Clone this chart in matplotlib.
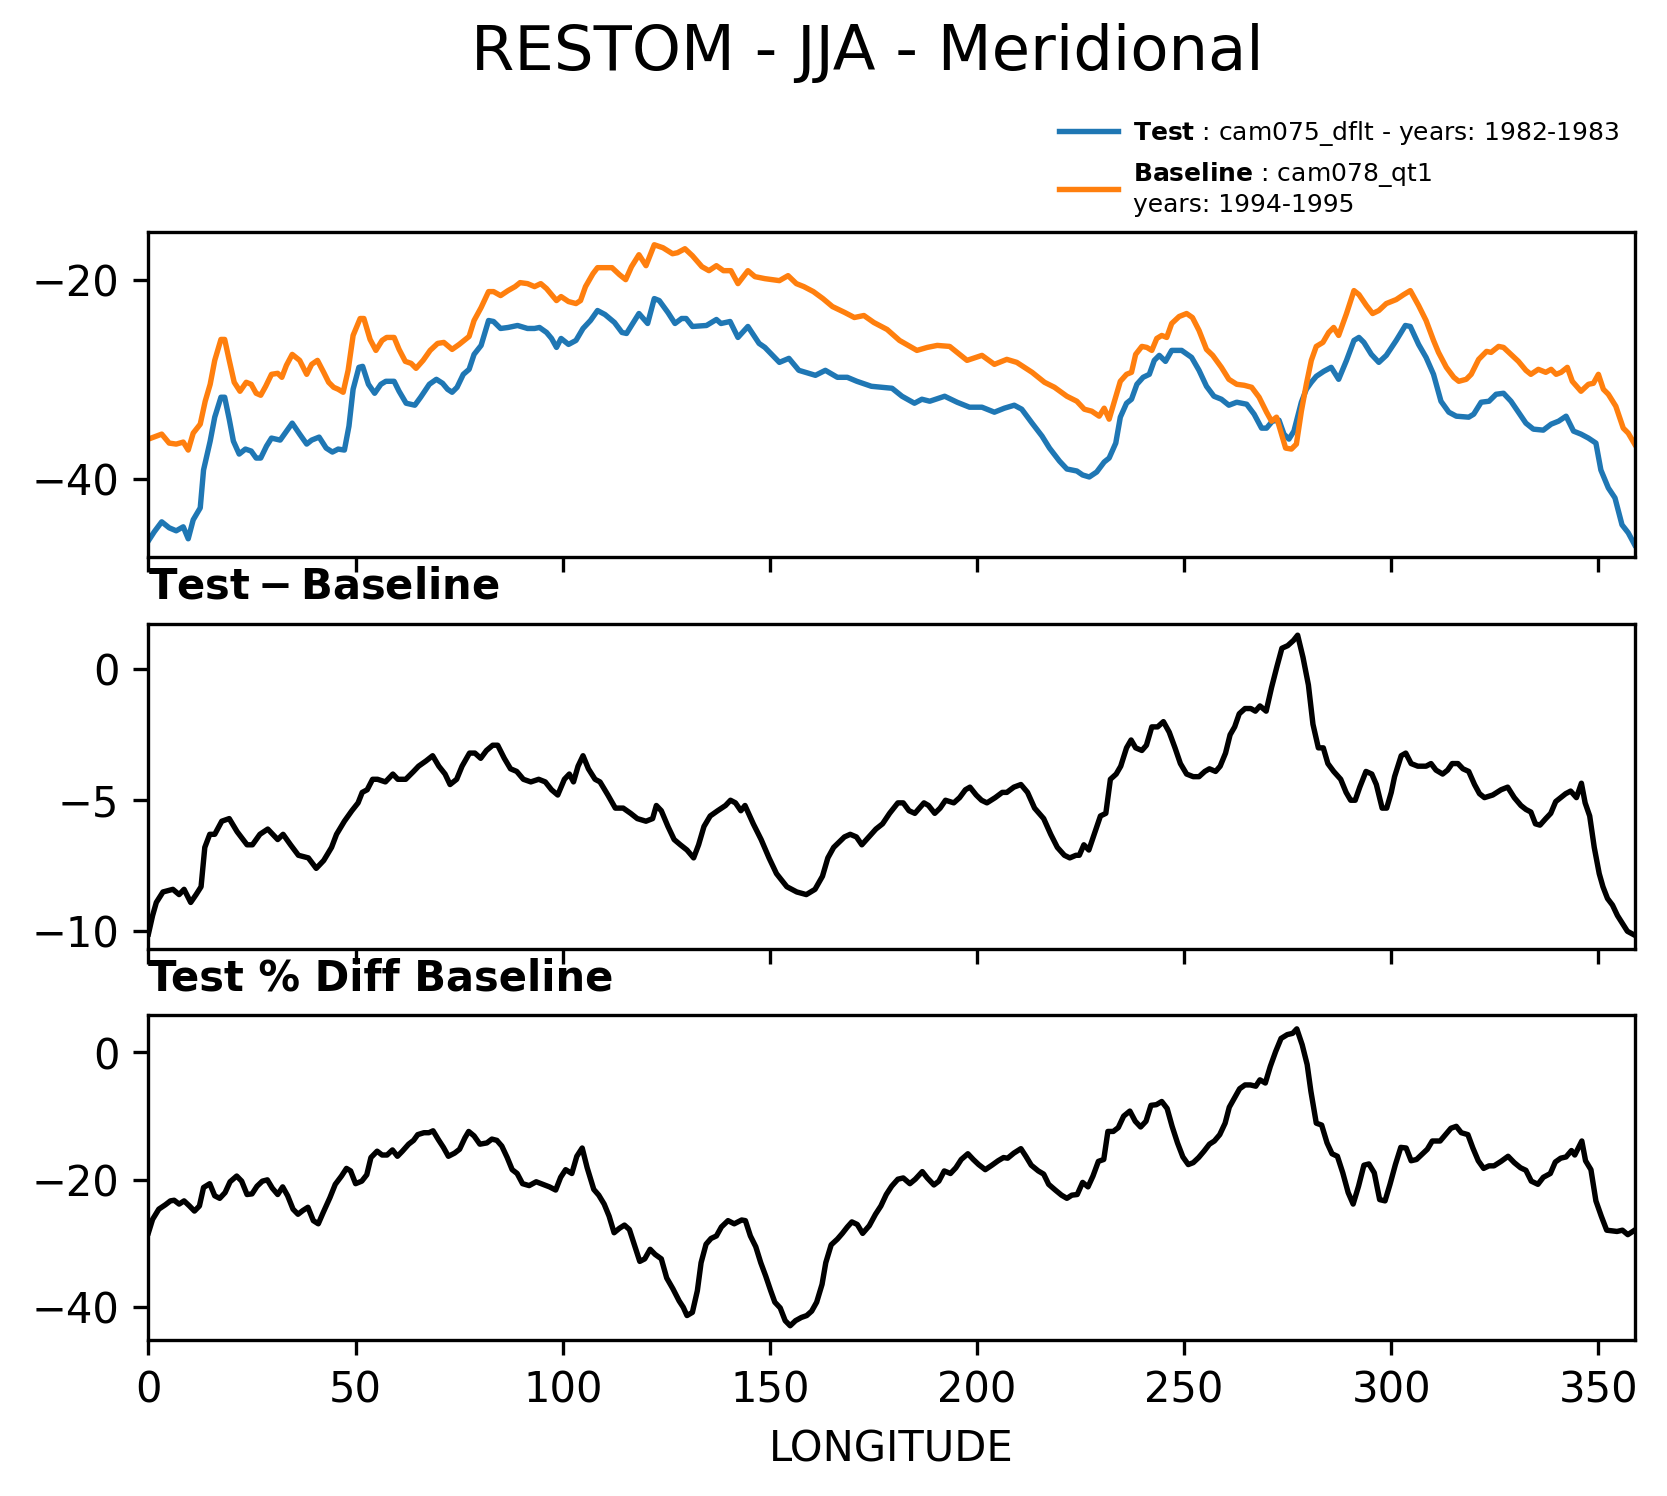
import matplotlib
matplotlib.use('Agg')
import matplotlib.pyplot as plt
from matplotlib.ticker import MultipleLocator

# RESTOM zonal-mean (meridional) values, by longitude
test_lon = [0, 1.4, 3.2, 5.0, 6.7, 8.4, 9.6, 10.8, 12.5, 13.3, 14.9, 16.0, 17.5, 18.4, 19.5, 20.5,
            21.9, 23.4, 24.8, 26.0, 27.1, 28.5, 29.7, 31.8, 33.0, 34.7, 36.5, 38.2, 39.4, 41.2,
            42.9, 44.4, 45.8, 47.3, 48.4, 49.4, 50.8, 51.7, 53.1, 54.6, 56.1, 57.3, 59.3, 60.5,
            62.2, 64.3, 65.7, 67.8, 69.5, 71.0, 72.2, 73.3, 74.5, 76.0, 77.4, 78.6, 80.3, 82.1,
            83.3, 85.0, 86.8, 89.1, 91.5, 93.2, 94.4, 96.1, 97.3, 98.5, 99.6, 101.4, 103.2, 104.9,
            106.7, 108.4, 110.2, 112.5, 114.3, 115.4, 116.6, 118.4, 120.5, 122.1, 123.3, 125.4,
            127.1, 128.7, 129.8, 131.3, 134.7, 137.1, 138.2, 140.4, 142.3, 144.7, 147.4, 148.8,
            152.3, 154.6, 157.0, 161.0, 163.4, 166.3, 168.7, 171.0, 174.5, 179.5, 181.9, 184.9,
            186.7, 188.6, 192.2, 195.2, 198.2, 201.2, 204.2, 206.6, 209.0, 210.8, 213.3, 215.7,
            217.5, 219.9, 221.7, 224.1, 225.5, 227.1, 228.9, 230.7, 231.9, 233.5, 234.6, 236.1,
            237.3, 238.6, 240.1, 241.6, 242.8, 244.0, 245.5, 247.0, 249.4, 251.8, 253.6, 255.4,
            257.2, 259.0, 260.8, 262.7, 265.1, 266.9, 268.7, 269.9, 271.3, 272.9, 274.1, 275.3,
            276.5, 278.3, 279.5, 280.7, 281.9, 283.7, 285.5, 287.3, 289.2, 291.0, 292.2, 293.4,
            295.2, 297.0, 298.8, 301.2, 303.4, 304.6, 306.6, 308.4, 310.2, 312.0, 313.9, 315.7,
            318.7, 319.9, 321.7, 323.6, 325.3, 327.1, 328.9, 330.7, 332.5, 334.3, 336.7, 338.6,
            340.4, 342.2, 344.0, 345.8, 347.6, 349.4, 350.6, 352.4, 354.0, 355.7, 357.2, 358.75]
test_val = [-46.2, -45.3, -44.3, -44.9, -45.2, -44.8, -46.0, -44.1, -42.9, -39.1, -36.2, -33.8,
            -31.8, -31.8, -34.0, -36.2, -37.5, -37.0, -37.2, -37.9, -37.9, -36.7, -35.9, -36.1,
            -35.4, -34.4, -35.5, -36.5, -36.1, -35.8, -36.9, -37.3, -37.0, -37.1, -34.7, -31.0,
            -28.8, -28.7, -30.5, -31.4, -30.5, -30.2, -30.2, -31.2, -32.4, -32.6, -31.8, -30.5,
            -30.0, -30.4, -31.0, -31.3, -30.8, -29.5, -29.0, -27.5, -26.6, -24.1, -24.2, -24.9,
            -24.8, -24.6, -24.9, -24.9, -24.8, -25.3, -25.9, -26.8, -25.9, -26.5, -26.1, -24.9,
            -24.1, -23.1, -23.5, -24.3, -25.3, -25.4, -24.6, -23.4, -24.4, -21.9, -22.1, -23.3,
            -24.4, -23.9, -23.9, -24.7, -24.6, -24.0, -24.4, -24.2, -25.8, -24.7, -26.4, -26.8,
            -28.3, -27.9, -29.1, -29.6, -29.1, -29.8, -29.8, -30.2, -30.7, -30.9, -31.7, -32.4,
            -32.0, -32.2, -31.7, -32.3, -32.8, -32.8, -33.3, -32.9, -32.6, -33.0, -34.4, -35.7,
            -36.9, -38.2, -39.0, -39.2, -39.6, -39.8, -39.3, -38.3, -37.9, -36.4, -33.8, -32.4,
            -32.0, -30.5, -29.8, -29.5, -28.1, -27.6, -28.2, -27.1, -27.1, -27.8, -29.1, -30.7,
            -31.7, -32.0, -32.6, -32.3, -32.5, -33.5, -34.9, -34.9, -34.2, -34.1, -35.5, -36.0,
            -35.2, -32.3, -31.0, -30.3, -29.7, -29.2, -28.8, -30.0, -28.1, -26.1, -25.8, -26.3,
            -27.5, -28.3, -27.6, -26.1, -24.6, -24.7, -26.5, -27.8, -29.5, -32.2, -33.3, -33.7,
            -33.8, -33.5, -32.3, -32.2, -31.5, -31.4, -32.2, -33.3, -34.4, -35.0, -35.1, -34.5,
            -34.2, -33.7, -35.2, -35.5, -35.9, -36.4, -39.1, -40.9, -41.9, -44.6, -45.4, -46.6]

base_lon = [0, 3.2, 5.0, 6.7, 8.4, 9.6, 10.8, 12.5, 13.7, 14.9, 16.0, 17.5, 18.4, 19.5, 20.7, 22.1,
            23.6, 24.8, 26.0, 27.1, 28.3, 29.7, 31.2, 32.2, 33.3, 34.7, 36.5, 38.2, 39.4, 40.8,
            42.3, 43.5, 44.7, 45.8, 47.0, 48.2, 49.4, 51.1, 52.0, 53.5, 54.9, 56.4, 57.5, 59.3,
            60.5, 62.0, 63.4, 64.6, 66.3, 68.0, 69.8, 71.3, 73.3, 75.0, 77.4, 78.6, 80.3, 82.1,
            83.3, 85.0, 86.8, 88.5, 89.7, 91.5, 93.2, 94.7, 96.1, 98.5, 99.6, 101.4, 103.2, 104.3,
            105.5, 107.3, 108.4, 111.9, 113.7, 115.2, 116.6, 118.4, 120.1, 122.1, 124.2, 126.5,
            127.7, 129.5, 131.3, 133.6, 135.3, 137.1, 138.8, 140.6, 142.3, 144.7, 146.4, 148.8,
            152.3, 154.4, 156.4, 158.2, 160.5, 162.8, 165.1, 168.1, 170.4, 172.7, 175.1, 178.3,
            181.3, 185.5, 188.0, 190.4, 193.4, 195.2, 197.6, 201.2, 204.2, 207.2, 209.6, 213.3,
            216.3, 218.7, 221.7, 224.1, 225.9, 227.7, 229.5, 230.7, 231.9, 233.1, 234.6, 236.1,
            237.3, 238.3, 239.8, 241.0, 242.2, 243.4, 244.6, 245.8, 247.0, 248.8, 250.6, 252.0,
            253.6, 255.4, 256.9, 259.0, 260.8, 262.7, 264.5, 266.3, 268.1, 269.9, 271.1, 272.3,
            273.5, 274.5, 275.9, 277.1, 278.3, 279.5, 280.7, 281.9, 283.5, 284.9, 286.1, 287.3,
            289.2, 291.0, 292.2, 294.0, 295.5, 297.0, 298.8, 301.2, 303.0, 304.6, 306.6, 308.4,
            310.2, 311.4, 313.3, 315.1, 316.3, 318.1, 319.3, 321.1, 323.0, 324.1, 325.9, 327.1,
            328.9, 330.7, 332.5, 333.7, 335.5, 337.3, 338.6, 339.8, 341.0, 342.5, 343.7, 345.8,
            347.6, 348.8, 350.0, 351.2, 352.4, 354.2, 356.0, 357.2, 358.75]
base_val = [-36.0, -35.5, -36.4, -36.5, -36.3, -37.1, -35.4, -34.5, -32.2, -30.5, -28.1, -26.0,
            -26.0, -28.1, -30.3, -31.2, -30.3, -30.5, -31.4, -31.6, -30.7, -29.5, -29.4, -29.8,
            -28.6, -27.5, -28.1, -29.5, -28.5, -28.1, -29.3, -30.3, -30.8, -31.0, -31.3, -29.1,
            -25.6, -23.9, -23.9, -26.0, -27.1, -26.1, -25.8, -25.8, -27.0, -28.2, -28.4, -28.9,
            -28.1, -27.1, -26.4, -26.3, -27.0, -26.5, -25.7, -24.1, -22.8, -21.2, -21.2, -21.6,
            -21.1, -20.7, -20.3, -20.4, -20.7, -20.4, -20.9, -22.1, -21.7, -22.2, -22.4, -22.1,
            -20.7, -19.4, -18.8, -18.8, -19.5, -20.0, -18.7, -17.5, -18.6, -16.5, -16.8, -17.4,
            -17.3, -16.9, -17.6, -18.7, -19.1, -18.6, -19.1, -19.1, -20.4, -19.1, -19.7, -19.9,
            -20.1, -19.6, -20.4, -20.7, -21.2, -21.9, -22.7, -23.3, -23.8, -23.6, -24.3, -25.0,
            -26.1, -27.1, -26.8, -26.6, -26.7, -27.3, -28.1, -27.6, -28.5, -28.0, -28.3, -29.3,
            -30.3, -30.8, -31.7, -32.2, -33.0, -33.2, -33.7, -32.9, -34.0, -32.3, -30.2, -29.5,
            -29.3, -27.5, -26.7, -26.8, -27.1, -25.9, -25.6, -25.8, -24.4, -23.7, -23.4, -23.8,
            -25.1, -27.0, -27.6, -28.8, -30.0, -30.5, -30.6, -30.8, -31.8, -33.3, -34.2, -33.8,
            -35.5, -36.9, -37.0, -36.5, -33.2, -30.5, -28.1, -26.7, -26.3, -25.3, -24.8, -25.6,
            -23.4, -21.1, -21.5, -22.6, -23.4, -23.1, -22.4, -22.0, -21.5, -21.1, -22.6, -24.1,
            -26.1, -27.3, -28.8, -29.8, -30.2, -30.0, -29.5, -28.0, -27.2, -27.3, -26.7, -26.8,
            -27.5, -28.2, -29.1, -29.5, -29.0, -29.3, -29.0, -29.5, -29.3, -28.8, -30.2, -31.2,
            -30.5, -30.4, -29.5, -31.0, -31.5, -32.7, -34.9, -35.4, -36.5]

diff_lon = [0, 1.0, 1.9, 3.5, 5.9, 7.4, 8.6, 10.2, 11.5, 12.7, 13.6, 14.8, 16.0, 17.7, 19.5, 21.4,
            23.8, 25.1, 26.9, 28.8, 30.0, 31.2, 32.5, 34.3, 36.2, 38.6, 40.5, 42.3, 44.2, 45.4,
            47.3, 49.1, 50.6, 51.6, 52.8, 54.1, 55.3, 57.2, 59.0, 60.2, 62.1, 64.0, 65.2, 67.0,
            68.6, 70.1, 71.6, 72.8, 74.4, 75.7, 77.5, 78.8, 80.2, 81.6, 83.1, 84.3, 85.9, 87.4,
            88.9, 90.5, 92.3, 94.2, 95.8, 97.3, 98.8, 100.4, 101.6, 102.6, 103.7, 104.9, 106.2,
            107.8, 109.0, 110.9, 112.7, 114.6, 116.4, 118.0, 120.1, 121.7, 122.6, 123.8, 125.4,
            126.9, 128.4, 130.0, 131.6, 132.8, 134.1, 135.6, 137.4, 139.3, 140.5, 141.7, 143.0,
            144.0, 146.0, 147.9, 149.8, 151.6, 154.1, 156.5, 158.8, 160.9, 162.7, 164.0, 165.4,
            168.0, 169.4, 170.9, 172.2, 173.9, 175.6, 177.2, 178.9, 180.9, 182.2, 183.6, 185.0,
            186.1, 187.2, 188.3, 189.8, 191.1, 192.4, 194.4, 195.8, 197.2, 198.3, 199.8, 201.1,
            202.4, 204.4, 206.1, 207.2, 208.9, 210.6, 212.2, 213.9, 216.1, 217.8, 219.4, 221.1,
            222.4, 223.9, 224.7, 225.8, 227.0, 228.3, 229.8, 231.1, 232.2, 233.6, 234.7, 236.1,
            237.2, 238.3, 239.8, 240.9, 242.2, 243.6, 245.0, 246.4, 247.8, 249.1, 250.6, 252.2,
            253.6, 255.0, 256.1, 257.6, 258.7, 260.0, 261.1, 262.2, 263.3, 264.7, 266.1, 267.2,
            268.3, 269.8, 271.1, 272.4, 273.6, 275.0, 276.4, 277.4, 278.7, 280.0, 281.1, 282.4,
            283.6, 284.7, 286.1, 287.8, 289.1, 290.2, 291.3, 292.4, 293.9, 295.3, 296.4, 297.8,
            298.9, 300.0, 300.8, 302.4, 303.5, 304.8, 306.4, 308.4, 309.6, 310.8, 312.4, 313.6,
            314.7, 316.1, 317.3, 318.7, 320.1, 321.3, 322.5, 324.5, 326.5, 328.1, 329.7, 331.3,
            332.5, 333.7, 334.8, 335.9, 337.3, 338.5, 339.7, 340.9, 342.1, 343.3, 344.7, 345.9,
            346.8, 347.9, 349.0, 350.2, 351.1, 352.2, 353.4, 354.6, 355.8, 357.0, 358.2, 358.75]
diff_val = [-10.1, -9.4, -8.9, -8.5, -8.4, -8.6, -8.4, -8.9, -8.6, -8.3, -6.8, -6.3, -6.3, -5.8,
            -5.7, -6.2, -6.7, -6.7, -6.3, -6.1, -6.3, -6.5, -6.3, -6.7, -7.1, -7.2, -7.6, -7.3,
            -6.8, -6.3, -5.8, -5.4, -5.1, -4.7, -4.6, -4.2, -4.2, -4.3, -4.0, -4.2, -4.2, -3.9,
            -3.7, -3.5, -3.3, -3.7, -4.0, -4.4, -4.2, -3.7, -3.2, -3.2, -3.4, -3.1, -2.9, -2.9,
            -3.4, -3.8, -3.9, -4.2, -4.3, -4.2, -4.3, -4.6, -4.8, -4.2, -4.0, -4.3, -3.7, -3.3,
            -3.8, -4.2, -4.3, -4.8, -5.3, -5.3, -5.5, -5.7, -5.8, -5.7, -5.2, -5.4, -6.0, -6.5,
            -6.7, -6.9, -7.2, -6.7, -6.0, -5.6, -5.4, -5.2, -5.0, -5.1, -5.4, -5.2, -5.9, -6.5,
            -7.2, -7.8, -8.3, -8.5, -8.6, -8.4, -7.9, -7.2, -6.8, -6.4, -6.3, -6.4, -6.7, -6.4,
            -6.1, -5.9, -5.5, -5.1, -5.1, -5.4, -5.5, -5.3, -5.1, -5.2, -5.5, -5.3, -5.0, -5.1,
            -4.9, -4.6, -4.5, -4.8, -5.0, -5.1, -4.9, -4.7, -4.7, -4.5, -4.4, -4.7, -5.3, -5.7,
            -6.3, -6.8, -7.1, -7.2, -7.1, -7.1, -6.7, -6.9, -6.3, -5.6, -5.5, -4.2, -4.0, -3.7,
            -3.0, -2.7, -3.0, -3.1, -2.9, -2.2, -2.2, -2.0, -2.4, -3.0, -3.6, -4.0, -4.1, -4.1,
            -3.9, -3.8, -3.9, -3.7, -3.2, -2.5, -2.2, -1.7, -1.5, -1.5, -1.6, -1.4, -1.6, -0.7,
            0.1, 0.8, 0.9, 1.1, 1.3, 0.45, -0.6, -2.1, -3.0, -3.0, -3.6, -3.9, -4.2, -4.7, -5.0,
            -5.0, -4.5, -3.9, -4.0, -4.4, -5.3, -5.3, -4.7, -4.1, -3.3, -3.2, -3.6, -3.7, -3.7,
            -3.6, -3.85, -4.0, -3.85, -3.6, -3.6, -3.8, -3.9, -4.4, -4.75, -4.9, -4.8, -4.6,
            -4.5, -4.9, -5.2, -5.35, -5.45, -5.9, -5.95, -5.7, -5.5, -5.05, -4.9, -4.75, -4.65,
            -4.9, -4.35, -5.1, -5.6, -6.8, -7.8, -8.3, -8.75, -9.0, -9.4, -9.7, -10.0, -10.1,
            -10.15]

pct_lon = [0, 1.0, 2.5, 4.1, 5.3, 6.2, 7.4, 8.6, 9.9, 11.1, 12.3, 13.3, 14.8, 16.0, 17.2, 18.5,
           19.7, 21.3, 22.5, 23.8, 25.0, 26.2, 27.5, 28.7, 29.9, 31.2, 32.4, 33.6, 34.9, 36.1,
           37.3, 38.5, 39.8, 41.0, 42.2, 43.8, 45.1, 46.6, 47.8, 48.8, 50.0, 51.5, 52.7, 53.7,
           55.2, 56.4, 57.6, 58.9, 60.1, 61.3, 62.8, 64.0, 65.0, 66.5, 67.7, 68.7, 70.0, 71.2,
           72.4, 73.9, 75.1, 76.4, 77.3, 78.6, 80.0, 81.7, 82.9, 84.1, 85.3, 86.6, 87.8, 89.0,
           90.3, 91.9, 93.6, 95.2, 96.8, 98.3, 99.5, 100.7, 102.2, 103.4, 104.7, 105.9, 107.5,
           108.7, 110.0, 111.2, 112.4, 113.7, 114.9, 116.1, 117.4, 118.6, 119.8, 121.1, 122.3,
           123.8, 125.1, 126.6, 128.1, 129.1, 130.0, 131.3, 132.5, 133.4, 134.6, 135.8, 137.1,
           138.3, 139.9, 141.4, 143.2, 144.1, 145.3, 146.6, 147.8, 149.0, 150.2, 151.2, 152.5,
           153.7, 154.9, 156.2, 157.6, 158.9, 160.1, 161.3, 162.6, 163.5, 164.8, 166.3, 167.5,
           168.7, 169.8, 171.1, 172.4, 174.0, 175.5, 176.8, 178.1, 179.4, 180.9, 182.2, 183.8,
           185.1, 186.8, 188.0, 189.6, 190.8, 192.1, 193.6, 194.9, 196.2, 197.8, 199.1, 200.4,
           202.0, 203.6, 205.1, 206.4, 207.4, 208.9, 210.6, 211.8, 213.1, 214.8, 216.1, 217.3,
           218.9, 220.4, 221.7, 222.9, 224.2, 225.5, 226.8, 228.0, 229.3, 230.6, 231.6, 232.9,
           234.1, 235.4, 236.9, 238.2, 239.5, 240.8, 242.0, 243.3, 244.6, 245.9, 247.1, 248.4,
           249.7, 251.0, 252.2, 253.5, 254.8, 256.1, 257.3, 258.6, 259.9, 260.9, 262.2, 263.4,
           264.7, 266.0, 267.3, 268.3, 269.6, 270.8, 272.1, 273.4, 274.9, 276.2, 277.2, 278.5,
           279.7, 280.6, 281.9, 283.2, 284.5, 285.7, 287.0, 288.3, 289.6, 290.8, 292.1, 293.4,
           294.6, 295.9, 297.2, 298.5, 299.7, 301.0, 302.3, 303.6, 304.8, 306.1, 307.4, 308.7,
           309.9, 311.8, 313.1, 314.4, 315.7, 316.9, 318.5, 319.7, 321.0, 322.3, 323.6, 324.8,
           326.5, 328.2, 329.7, 331.2, 332.5, 333.8, 335.4, 336.7, 338.4, 339.6, 340.9, 342.2,
           343.5, 344.3, 346.0, 346.9, 348.2, 349.4, 350.7, 352.0, 353.2, 354.5, 355.8, 357.1,
           358.75]
pct_val = [-28.3, -26.2, -24.6, -23.9, -23.3, -23.2, -23.8, -23.3, -24.1, -24.9, -24.1, -21.2,
           -20.6, -22.5, -22.9, -22.0, -20.3, -19.4, -20.2, -22.3, -22.2, -21.0, -20.2, -20.0,
           -21.3, -22.3, -21.1, -22.5, -24.6, -25.4, -24.8, -24.3, -26.4, -26.9, -25.1, -22.8,
           -20.7, -19.4, -18.2, -18.6, -20.6, -20.2, -19.2, -16.5, -15.5, -16.1, -16.1, -15.3,
           -16.3, -15.5, -14.4, -13.8, -12.9, -12.6, -12.6, -12.3, -13.7, -14.9, -16.3, -15.8,
           -15.2, -13.4, -12.4, -13.1, -14.4, -14.2, -13.6, -13.8, -14.7, -16.5, -18.4, -19.0,
           -20.6, -20.9, -20.3, -20.7, -21.1, -21.6, -19.6, -18.4, -19.0, -16.3, -15.0, -18.1,
           -21.5, -22.4, -23.8, -25.7, -28.3, -27.6, -27.1, -27.8, -30.4, -32.8, -32.4, -30.9,
           -31.7, -32.4, -35.4, -37.1, -39.0, -40.0, -41.3, -40.8, -37.4, -33.0, -30.1, -29.2,
           -28.8, -27.4, -26.4, -26.9, -26.3, -26.4, -28.8, -30.5, -33.0, -35.1, -37.4, -39.2,
           -40.1, -42.1, -42.9, -42.1, -41.6, -41.3, -40.6, -39.2, -36.4, -33.0, -30.2, -29.3,
           -28.4, -27.4, -26.6, -27.0, -28.4, -27.2, -25.4, -24.1, -22.3, -21.0, -19.9, -19.7,
           -20.6, -19.9, -18.7, -19.7, -20.8, -20.2, -18.6, -19.0, -18.1, -16.8, -15.9, -16.8,
           -17.6, -18.4, -17.7, -17.0, -16.5, -16.6, -15.8, -15.1, -16.3, -17.7, -18.6, -19.1,
           -20.7, -21.6, -22.4, -22.9, -22.4, -22.3, -20.4, -21.1, -19.4, -17.1, -16.8, -12.4,
           -12.4, -11.8, -10.0, -9.2, -10.8, -11.7, -10.8, -8.3, -8.2, -7.7, -8.8, -11.6, -14.2,
           -16.4, -17.6, -17.3, -16.5, -15.5, -14.4, -13.9, -12.9, -11.1, -8.6, -7.1, -5.7,
           -5.1, -5.1, -5.3, -4.3, -4.8, -2.2, 0.15, 2.2, 2.8, 3.0, 3.7, 1.2, -1.9, -6.1, -11.1,
           -11.4, -14.2, -15.9, -16.3, -18.9, -22.0, -23.8, -21.0, -17.7, -17.5, -18.9, -23.1,
           -23.3, -20.7, -17.6, -14.9, -15.0, -17.0, -16.8, -16.0, -15.2, -13.9, -13.9, -12.9,
           -11.9, -11.6, -12.6, -12.9, -15.0, -17.0, -18.2, -17.8, -17.8, -17.1, -16.3, -17.3,
           -18.1, -18.5, -20.2, -20.7, -19.6, -19.0, -17.2, -16.6, -16.4, -15.4, -16.1, -13.9,
           -17.0, -18.4, -23.3, -25.7, -27.9, -28.0, -28.1, -27.9, -28.6, -27.9]

test_label = r'$\bf{Test}$' + ' : cam075_dflt - years: 1982-1983'
base_label = r'$\bf{Baseline}$' + ' : cam078_qt1\nyears: 1994-1995'

parameters = {
    'font.family': 'DejaVu Sans',
    'axes.titlesize': 10,
    'axes.labelsize': 10,
    'xtick.labelsize': 10,
    'ytick.labelsize': 10,
    'lines.linewidth': 1.3,
}
plt.rcParams.update(parameters)

fig, (ax1, ax2, ax3) = plt.subplots(3, 1, sharex=True, figsize=(5.56, 4.987), dpi=300)
fig.subplots_adjust(left=0.089, right=0.980, top=0.845, bottom=0.104, hspace=0.206)

ax1.plot(test_lon, test_val, color='C0', label=test_label)
ax1.plot(base_lon, base_val, color='C1', label=base_label)
ax1.set_ylim(-47.8, -15.2)
ax1.yaxis.set_major_locator(MultipleLocator(20))
ax1.legend(loc='lower right', bbox_to_anchor=(1.0, 1.0), frameon=False,
           fontsize=6, handlelength=2.35, handletextpad=0.6, borderaxespad=0.2)

ax2.plot(diff_lon, diff_val, color='k')
ax2.set_ylim(-10.66, 1.74)
ax2.yaxis.set_major_locator(MultipleLocator(5))
ax2.set_title(r'$\bf{Test - Baseline}$', loc='left')

ax3.plot(pct_lon, pct_val, color='k')
ax3.set_ylim(-45.2, 5.8)
ax3.yaxis.set_major_locator(MultipleLocator(20))
ax3.set_title('Test % Diff Baseline', loc='left', fontweight='bold')

ax3.set_xlim(0, 358.75)
ax3.xaxis.set_major_locator(MultipleLocator(50))
ax3.set_xlabel('LONGITUDE')

fig.suptitle('RESTOM - JJA - Meridional', x=0.52, y=0.9645, va='center', fontsize=15)

plt.savefig('out.png', dpi=300)
